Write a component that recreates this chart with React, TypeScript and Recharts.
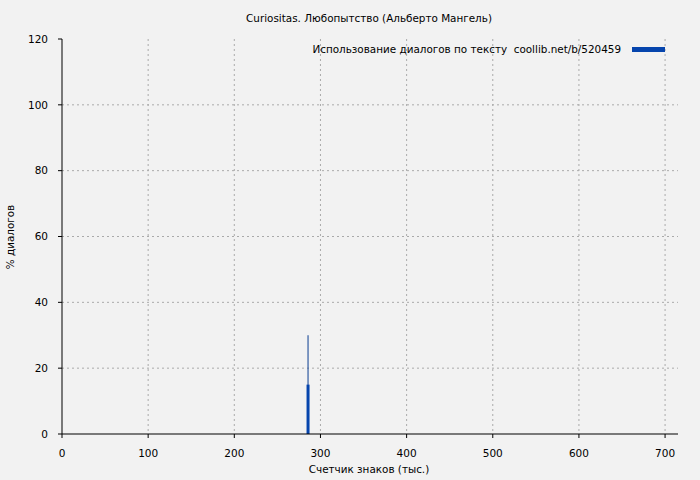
import { ComposedChart, Bar, CartesianGrid, XAxis, YAxis } from "recharts"

const positions = [285]
const dialogShare = [15]
const dialogPeak = [30]
const xTicks = [0, 100, 200, 300, 400, 500, 600, 700]
const yTicks = [0, 20, 40, 60, 80, 100, 120]

const data = positions.map((x, i) => ({ x, share: dialogShare[i], peak: dialogPeak[i] }))

const font = "DejaVu Sans, Verdana, sans-serif"
const tickStyle = { fill: "#000", fontSize: 10.5, fontFamily: font }

export default function App() {
  return (
    <div style={{ position: "absolute", left: 0, top: 0, width: 700, height: 480, background: "#f2f2f2", fontFamily: font }}>
      <div style={{ position: "absolute", top: 12, left: 0, width: 738, textAlign: "center", fontSize: 10.4 }}>
        Curiositas. Любопытство (Альберто Мангель)
      </div>
      <div style={{ position: "absolute", top: 463, left: 0, width: 738, textAlign: "center", fontSize: 10.4 }}>
        Счетчик знаков (тыс.)
      </div>
      <div
        style={{
          position: "absolute",
          left: 10,
          top: 237,
          fontSize: 10.4,
          whiteSpace: "nowrap",
          transform: "translate(-50%, -50%) rotate(-90deg)",
        }}
      >
        % диалогов
      </div>
      <div style={{ position: "absolute", top: 43, right: 35, display: "flex", alignItems: "center", fontSize: 10.4, zIndex: 2 }}>
        <span>Использование диалогов по тексту&nbsp; coollib.net/b/520459</span>
        <span style={{ display: "inline-block", width: 33, height: 5, background: "#0645ad", marginLeft: 11 }} />
      </div>
      <ComposedChart width={700} height={480} data={data} margin={{ top: 39, right: 22, left: 0, bottom: 0 }}>
        <CartesianGrid stroke="#aaa" strokeDasharray="2 3" horizontalValues={[20, 40, 60, 80, 100]} verticalValues={[100, 200, 300, 400, 500, 600, 700]} />
        <XAxis
          dataKey="x"
          type="number"
          domain={[0, 715]}
          ticks={xTicks}
          height={46}
          tickSize={4}
          tickMargin={12}
          stroke="#000"
          tick={tickStyle}
          allowDataOverflow
        />
        <XAxis
          xAxisId="top"
          dataKey="x"
          type="number"
          orientation="top"
          domain={[0, 715]}
          tick={false}
          tickLine={false}
          height={0}
          stroke="#000"
          allowDataOverflow
        />
        <YAxis
          type="number"
          domain={[0, 120]}
          ticks={yTicks}
          width={62}
          tickSize={4}
          tickMargin={10}
          stroke="#000"
          tick={tickStyle}
          interval={0}
        />
        <YAxis yAxisId="right" orientation="right" type="number" domain={[0, 120]} width={0} tick={false} tickLine={false} stroke="#000" />
        <Bar dataKey="peak" xAxisId="top" fill="#0a3d91" barSize={1} isAnimationActive={false} />
        <Bar dataKey="share" fill="#0645ad" barSize={3} isAnimationActive={false} />
      </ComposedChart>
    </div>
  )
}
